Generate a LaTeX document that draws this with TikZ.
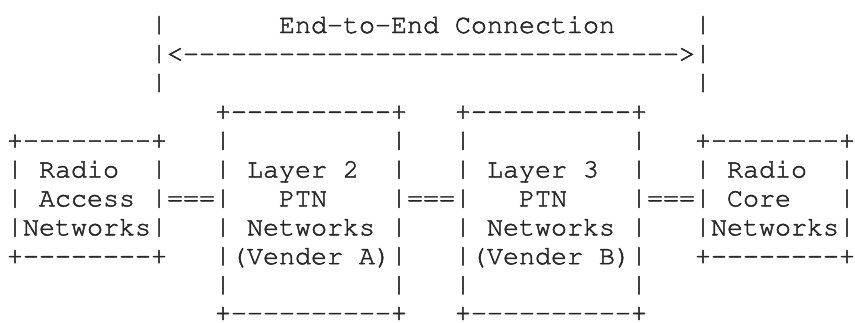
\documentclass[tikz,border=0pt]{standalone}
\usepackage[T1]{fontenc}
\usepackage{graphicx}
\ExplSyntaxOn
\NewDocumentCommand\asciiline{m}{
  \str_map_inline:nn {#1} {
    \str_if_eq:nnTF {##1} {.}
      { \hbox_to_wd:nn {16pt} {} }
      {
        \str_if_eq:nnTF {##1} {|}
          { \hbox_to_wd:nn {16pt} { \hfil \raisebox{-4.7pt}[20.3pt][4.7pt]{\resizebox{\width}{25pt}{\raisebox{\depth}{|}}} \hfil } }
          { \hbox_to_wd:nn {16pt} { \hfil ##1 \hfil } }
      }
  }
}
\ExplSyntaxOff
\newcommand\asciifont{\fontfamily{pcr}\fontseries{m}\fontshape{n}\fontsize{26.7pt}{28.9pt}\selectfont\special{pdf:literal direct 2 Tr 0.45 w}}
\tikzset{asciirow/.style={anchor=base west, inner sep=0pt, outer sep=0pt, font=\asciifont, text=black!85}}
\begin{document}
\begin{tikzpicture}[x=1pt,y=1pt]
\useasboundingbox[fill=white] (0,0) rectangle (855,-322);
\node[asciirow] (row0)  at (7,-33)    {\asciiline{.........|.......End-to-End.Connection.....|}};
\node[asciirow] (row1)  at (7,-61.9)  {\asciiline{.........|<------------------------------->|}};
\node[asciirow] (row2)  at (7,-90.8)  {\asciiline{.........|.................................|}};
\node[asciirow] (row3)  at (7,-119.7) {\asciiline{.............+----------+...+----------+}};
\node[asciirow] (row4)  at (7,-148.6) {\asciiline{+--------+...|..........|...|..........|...+--------+}};
\node[asciirow] (row5)  at (7,-177.5) {\asciiline{|.Radio..|...|.Layer.2..|...|.Layer.3..|...|.Radio..|}};
\node[asciirow] (row6)  at (7,-206.4) {\asciiline{|.Access.|===|...PTN....|===|...PTN....|===|.Core...|}};
\node[asciirow] (row7)  at (7,-235.3) {\asciiline{|Networks|...|.Networks.|...|.Networks.|...|Networks|}};
\node[asciirow] (row8)  at (7,-264.2) {\asciiline{+--------+...|(Vender.A)|...|(Vender.B)|...+--------+}};
\node[asciirow] (row9)  at (7,-293.1) {\asciiline{.............|..........|...|..........|}};
\node[asciirow] (row10) at (7,-321)   {\asciiline{.............+----------+...+----------+}};
\end{tikzpicture}
\end{document}
